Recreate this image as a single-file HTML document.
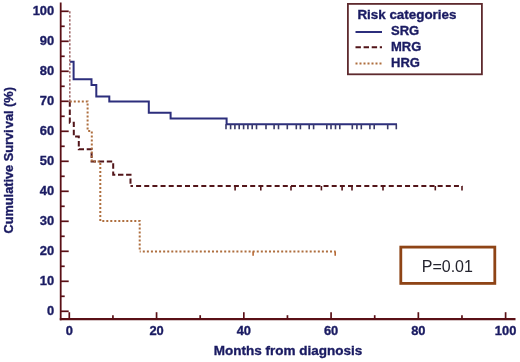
<!DOCTYPE html>
<html><head><meta charset="utf-8"><style>
html,body{margin:0;padding:0;background:#fff;}
body{width:520px;height:362px;overflow:hidden;}
svg{display:block;}
.tl{font-family:"Liberation Sans",Arial,sans-serif;font-weight:bold;font-size:12.9px;fill:#1a1b62;stroke:#1a1b62;stroke-width:0.35px;}
.at{font-family:"Liberation Sans",Arial,sans-serif;font-weight:bold;fill:#1a1b62;stroke:#1a1b62;stroke-width:0.35px;}
.lg{font-family:"Liberation Sans",Arial,sans-serif;font-weight:bold;font-size:13px;fill:#1a1b62;stroke:#1a1b62;stroke-width:0.35px;}
</style></head><body>
<svg width="520" height="362" viewBox="0 0 520 362">
<rect width="520" height="362" fill="#fff"/>
<line x1="60.7" y1="2.5" x2="60.7" y2="320.3" stroke="#5a1016" stroke-width="1.8"/>
<line x1="59.8" y1="319.2" x2="515.5" y2="319.2" stroke="#5a1016" stroke-width="2.2"/>
<line x1="60.7" y1="311.3" x2="68.7" y2="311.3" stroke="#5a1016" stroke-width="1.7"/>
<line x1="60.7" y1="296.3" x2="64.7" y2="296.3" stroke="#5a1016" stroke-width="1.7"/>
<line x1="60.7" y1="281.3" x2="68.7" y2="281.3" stroke="#5a1016" stroke-width="1.7"/>
<line x1="60.7" y1="266.3" x2="64.7" y2="266.3" stroke="#5a1016" stroke-width="1.7"/>
<line x1="60.7" y1="251.3" x2="68.7" y2="251.3" stroke="#5a1016" stroke-width="1.7"/>
<line x1="60.7" y1="236.3" x2="64.7" y2="236.3" stroke="#5a1016" stroke-width="1.7"/>
<line x1="60.7" y1="221.3" x2="68.7" y2="221.3" stroke="#5a1016" stroke-width="1.7"/>
<line x1="60.7" y1="206.3" x2="64.7" y2="206.3" stroke="#5a1016" stroke-width="1.7"/>
<line x1="60.7" y1="191.3" x2="68.7" y2="191.3" stroke="#5a1016" stroke-width="1.7"/>
<line x1="60.7" y1="176.3" x2="64.7" y2="176.3" stroke="#5a1016" stroke-width="1.7"/>
<line x1="60.7" y1="161.3" x2="68.7" y2="161.3" stroke="#5a1016" stroke-width="1.7"/>
<line x1="60.7" y1="146.3" x2="64.7" y2="146.3" stroke="#5a1016" stroke-width="1.7"/>
<line x1="60.7" y1="131.3" x2="68.7" y2="131.3" stroke="#5a1016" stroke-width="1.7"/>
<line x1="60.7" y1="116.3" x2="64.7" y2="116.3" stroke="#5a1016" stroke-width="1.7"/>
<line x1="60.7" y1="101.3" x2="68.7" y2="101.3" stroke="#5a1016" stroke-width="1.7"/>
<line x1="60.7" y1="86.3" x2="64.7" y2="86.3" stroke="#5a1016" stroke-width="1.7"/>
<line x1="60.7" y1="71.3" x2="68.7" y2="71.3" stroke="#5a1016" stroke-width="1.7"/>
<line x1="60.7" y1="56.3" x2="64.7" y2="56.3" stroke="#5a1016" stroke-width="1.7"/>
<line x1="60.7" y1="41.3" x2="68.7" y2="41.3" stroke="#5a1016" stroke-width="1.7"/>
<line x1="60.7" y1="26.3" x2="64.7" y2="26.3" stroke="#5a1016" stroke-width="1.7"/>
<line x1="60.7" y1="11.3" x2="68.7" y2="11.3" stroke="#5a1016" stroke-width="1.7"/>
<line x1="69.3" y1="319.2" x2="69.3" y2="312.2" stroke="#5a1016" stroke-width="1.7"/>
<line x1="112.93" y1="319.2" x2="112.93" y2="315.2" stroke="#5a1016" stroke-width="1.7"/>
<line x1="156.56" y1="319.2" x2="156.56" y2="312.2" stroke="#5a1016" stroke-width="1.7"/>
<line x1="200.19" y1="319.2" x2="200.19" y2="315.2" stroke="#5a1016" stroke-width="1.7"/>
<line x1="243.82" y1="319.2" x2="243.82" y2="312.2" stroke="#5a1016" stroke-width="1.7"/>
<line x1="287.45" y1="319.2" x2="287.45" y2="315.2" stroke="#5a1016" stroke-width="1.7"/>
<line x1="331.08" y1="319.2" x2="331.08" y2="312.2" stroke="#5a1016" stroke-width="1.7"/>
<line x1="374.71" y1="319.2" x2="374.71" y2="315.2" stroke="#5a1016" stroke-width="1.7"/>
<line x1="418.34" y1="319.2" x2="418.34" y2="312.2" stroke="#5a1016" stroke-width="1.7"/>
<line x1="461.97" y1="319.2" x2="461.97" y2="315.2" stroke="#5a1016" stroke-width="1.7"/>
<line x1="505.6" y1="319.2" x2="505.6" y2="312.2" stroke="#5a1016" stroke-width="1.7"/>
<text x="54.2" y="315.3" text-anchor="end" class="tl">0</text>
<text x="54.2" y="285.3" text-anchor="end" class="tl">10</text>
<text x="54.2" y="255.3" text-anchor="end" class="tl">20</text>
<text x="54.2" y="225.3" text-anchor="end" class="tl">30</text>
<text x="54.2" y="195.3" text-anchor="end" class="tl">40</text>
<text x="54.2" y="165.3" text-anchor="end" class="tl">50</text>
<text x="54.2" y="135.3" text-anchor="end" class="tl">60</text>
<text x="54.2" y="105.3" text-anchor="end" class="tl">70</text>
<text x="54.2" y="75.3" text-anchor="end" class="tl">80</text>
<text x="54.2" y="45.3" text-anchor="end" class="tl">90</text>
<text x="54.2" y="15.3" text-anchor="end" class="tl">100</text>
<text x="69.3" y="335.1" text-anchor="middle" class="tl">0</text>
<text x="156.56" y="335.1" text-anchor="middle" class="tl">20</text>
<text x="243.82" y="335.1" text-anchor="middle" class="tl">40</text>
<text x="331.08" y="335.1" text-anchor="middle" class="tl">60</text>
<text x="418.34" y="335.1" text-anchor="middle" class="tl">80</text>
<text x="505.6" y="335.1" text-anchor="middle" class="tl">100</text>
<text x="288" y="354.6" text-anchor="middle" class="at" style="font-size:13.5px">Months from diagnosis</text>
<text transform="translate(12.8 160.3) rotate(-90)" text-anchor="middle" class="at" style="font-size:12.75px">Cumulative Survi<tspan dx="1.2">val (%)</tspan></text>
<path d="M69.8 61.7 H73.6 V79.3 H91.5 V84.9 H96.3 V96.4 H109.3 V101.4 H148.8 V112.8 H170.6 V118.5 H226.6 V124.3 H397" fill="none" stroke="#2c2e7c" stroke-width="2"/>
<line x1="226" y1="124.3" x2="226" y2="129.3" stroke="#3a3a6a" stroke-width="1.6"/>
<line x1="230.6" y1="124.3" x2="230.6" y2="129.3" stroke="#3a3a6a" stroke-width="1.6"/>
<line x1="234.9" y1="124.3" x2="234.9" y2="129.3" stroke="#3a3a6a" stroke-width="1.6"/>
<line x1="239.2" y1="124.3" x2="239.2" y2="129.3" stroke="#3a3a6a" stroke-width="1.6"/>
<line x1="243.6" y1="124.3" x2="243.6" y2="129.3" stroke="#3a3a6a" stroke-width="1.6"/>
<line x1="247.9" y1="124.3" x2="247.9" y2="129.3" stroke="#3a3a6a" stroke-width="1.6"/>
<line x1="252.2" y1="124.3" x2="252.2" y2="129.3" stroke="#3a3a6a" stroke-width="1.6"/>
<line x1="256.5" y1="124.3" x2="256.5" y2="129.3" stroke="#3a3a6a" stroke-width="1.6"/>
<line x1="266" y1="124.3" x2="266" y2="129.3" stroke="#3a3a6a" stroke-width="1.6"/>
<line x1="274.1" y1="124.3" x2="274.1" y2="129.3" stroke="#3a3a6a" stroke-width="1.6"/>
<line x1="278.5" y1="124.3" x2="278.5" y2="129.3" stroke="#3a3a6a" stroke-width="1.6"/>
<line x1="287.3" y1="124.3" x2="287.3" y2="129.3" stroke="#3a3a6a" stroke-width="1.6"/>
<line x1="296.3" y1="124.3" x2="296.3" y2="129.3" stroke="#3a3a6a" stroke-width="1.6"/>
<line x1="300.4" y1="124.3" x2="300.4" y2="129.3" stroke="#3a3a6a" stroke-width="1.6"/>
<line x1="309.2" y1="124.3" x2="309.2" y2="129.3" stroke="#3a3a6a" stroke-width="1.6"/>
<line x1="313.6" y1="124.3" x2="313.6" y2="129.3" stroke="#3a3a6a" stroke-width="1.6"/>
<line x1="326.8" y1="124.3" x2="326.8" y2="129.3" stroke="#3a3a6a" stroke-width="1.6"/>
<line x1="331" y1="124.3" x2="331" y2="129.3" stroke="#3a3a6a" stroke-width="1.6"/>
<line x1="335.5" y1="124.3" x2="335.5" y2="129.3" stroke="#3a3a6a" stroke-width="1.6"/>
<line x1="339.8" y1="124.3" x2="339.8" y2="129.3" stroke="#3a3a6a" stroke-width="1.6"/>
<line x1="352.3" y1="124.3" x2="352.3" y2="129.3" stroke="#3a3a6a" stroke-width="1.6"/>
<line x1="356.9" y1="124.3" x2="356.9" y2="129.3" stroke="#3a3a6a" stroke-width="1.6"/>
<line x1="361.3" y1="124.3" x2="361.3" y2="129.3" stroke="#3a3a6a" stroke-width="1.6"/>
<line x1="369.9" y1="124.3" x2="369.9" y2="129.3" stroke="#3a3a6a" stroke-width="1.6"/>
<line x1="374.2" y1="124.3" x2="374.2" y2="129.3" stroke="#3a3a6a" stroke-width="1.6"/>
<line x1="387.7" y1="124.3" x2="387.7" y2="129.3" stroke="#3a3a6a" stroke-width="1.6"/>
<line x1="396.3" y1="124.3" x2="396.3" y2="129.3" stroke="#3a3a6a" stroke-width="1.6"/>
<path d="M69.8 101.4 V122.8 H73.8 V136.6 H78.8 V149.3 H91.6 V161.6 H113.2 V174.7 H130.5 V186" fill="none" stroke="#521519" stroke-width="2" stroke-dasharray="5.4 2.7"/>
<path d="M130.5 186 H462.3" fill="none" stroke="#521519" stroke-width="2" stroke-dasharray="5 3.15" stroke-dashoffset="2.55"/>
<line x1="235.1" y1="186" x2="235.1" y2="190.4" stroke="#521519" stroke-width="1.6"/>
<line x1="260.8" y1="186" x2="260.8" y2="190.4" stroke="#521519" stroke-width="1.6"/>
<line x1="291" y1="186" x2="291" y2="190.4" stroke="#521519" stroke-width="1.6"/>
<line x1="321.4" y1="186" x2="321.4" y2="190.4" stroke="#521519" stroke-width="1.6"/>
<line x1="342.1" y1="186" x2="342.1" y2="190.4" stroke="#521519" stroke-width="1.6"/>
<line x1="352" y1="186" x2="352" y2="190.4" stroke="#521519" stroke-width="1.6"/>
<line x1="383" y1="186" x2="383" y2="190.4" stroke="#521519" stroke-width="1.6"/>
<line x1="435.3" y1="186" x2="435.3" y2="190.4" stroke="#521519" stroke-width="1.6"/>
<line x1="462" y1="186" x2="462" y2="190.4" stroke="#521519" stroke-width="1.6"/>
<path d="M69.8 101.4 H87.6 V131 H91.8 V161.6 H100.3 V220.9 H139.7 V251.5" fill="none" stroke="#ae6e3e" stroke-width="2" stroke-dasharray="2 2"/>
<path d="M139.7 251.5 H335.6" fill="none" stroke="#ae6e3e" stroke-width="2" stroke-dasharray="2 2.07" stroke-dashoffset="0.97"/>
<line x1="69.8" y1="11.3" x2="69.8" y2="101.4" stroke="#a26a6a" stroke-width="1.6" stroke-dasharray="2.2 1.8"/>
<line x1="253.1" y1="251.5" x2="253.1" y2="255.8" stroke="#b86a35" stroke-width="1.6"/>
<line x1="335.2" y1="251.5" x2="335.2" y2="255.8" stroke="#b86a35" stroke-width="1.6"/>
<rect x="347.9" y="3.9" width="134" height="70.4" fill="#fff" stroke="#5e2a2e" stroke-width="1.8"/>
<text x="357.4" y="19.2" class="lg" style="font-size:13.4px">Risk categories</text>
<line x1="355.5" y1="32" x2="382" y2="32" stroke="#2c2e7c" stroke-width="2"/>
<text x="391" y="34.6" class="lg">SRG</text>
<line x1="355.5" y1="47.3" x2="382" y2="47.3" stroke="#521519" stroke-width="2" stroke-dasharray="5.4 2.7"/>
<text x="391" y="51.2" class="lg">MRG</text>
<line x1="355.5" y1="63.5" x2="382" y2="63.5" stroke="#ae6e3e" stroke-width="2" stroke-dasharray="2 2"/>
<text x="391" y="66.7" class="lg">HRG</text>
<rect x="400.8" y="247.1" width="94" height="36.3" fill="#fff" stroke="#8e4416" stroke-width="2.8"/>
<text x="447.3" y="272" text-anchor="middle" style="font-family:'Liberation Sans',sans-serif;font-size:16px;fill:#25252f">P=0.01</text>
</svg>
</body></html>
